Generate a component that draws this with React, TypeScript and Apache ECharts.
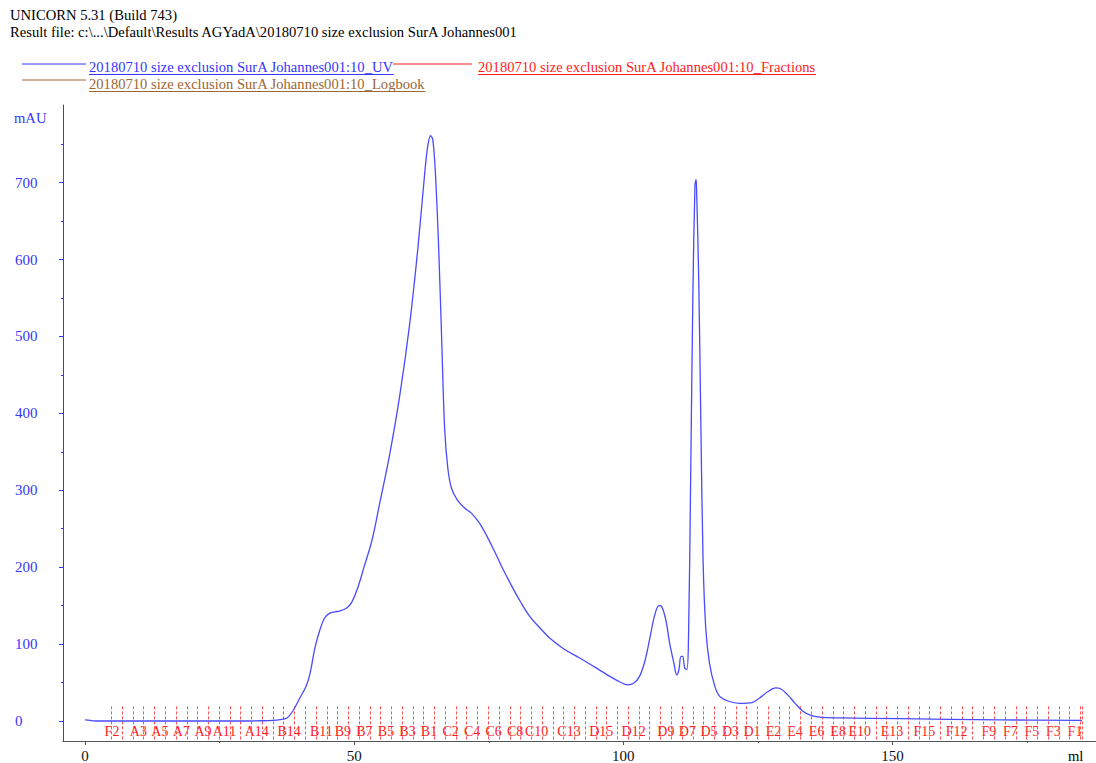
import React, { useEffect, useRef } from "react";
import * as echarts from "echarts";

// ---------- data ----------
const titleLine1 = "UNICORN 5.31 (Build 743)";
const titleLine2 = "Result file: c:\\...\\Default\\Results AGYadA\\20180710 size exclusion SurA Johannes001";
const legendUV = "20180710 size exclusion SurA Johannes001:10_UV";
const legendFractions = "20180710 size exclusion SurA Johannes001:10_Fractions";
const legendLogbook = "20180710 size exclusion SurA Johannes001:10_Logbook";

// UV trace: volume (ml) and absorbance (mAU)
const uvMl = [
  0, 0.5, 1.5, 3, 6, 10, 15, 20, 25, 30, 33, 34.9, 36.2, 37.5, 38.6, 39.9, 41.1, 41.8, 42.7, 43.6, 44.5,
  45.4, 46.4, 47.3, 48.6, 49.5, 50.6, 51.9, 53.3, 54.7, 56.6, 58.5, 60.3, 61.8, 62.9, 63.6, 64.2,
  64.6, 65.1, 65.7, 66.3, 66.8, 67.4, 68.1, 69.2, 70.5, 71.8, 73.3, 74.6, 76.1, 77.6, 79.3, 80.8,
  82.6, 84.5, 86.3, 89.1, 91.9, 94.7, 97.5, 99.3, 100.8, 101.9, 103, 104, 104.9, 105.8, 106.6,
  107.1, 107.9, 108.6, 109.4, 109.9, 110.3, 110.7, 111.0, 111.4, 111.8, 112.1, 112.5, 112.9, 113.3,
  113.5, 113.6, 114.0, 114.4, 114.8, 115.3, 116.0, 117.0, 117.9, 119.4, 121.6, 123.9, 125.3, 126.8,
  128.3, 129.2, 130.4, 131.9, 133.3, 134.6, 136.5, 140.2, 151.4, 170, 185.2,
];
const uvMau = [
  1.5, 1.2, 0.3, 0, 0, 0, 0, 0, 0, 0, 0.3, 0.8, 1.8, 4, 13, 30, 46, 62, 95, 118, 134,
  140, 142, 143, 147, 154, 172, 202, 235, 282, 347, 425, 516, 613, 697, 745, 761,
  756, 710, 613, 484, 380, 328, 302, 287, 277, 270, 257, 241, 220, 198, 175, 156,
  136, 121, 108, 93, 82, 70, 58, 51, 47, 49, 58, 78, 107, 137, 150,
  149, 131, 101, 75, 60, 66, 84, 84, 69, 67, 108, 315, 548, 697,
  704, 691, 574, 384, 211, 121, 75, 45, 32, 26, 23, 24, 30, 38,
  43, 42, 35, 23, 13, 8, 5, 4, 3, 1.5, 0.7,
];

// fraction boundaries (ml)
const fractionBounds = [
  4.9, 6.9, 8.9, 10.9, 12.9, 14.9, 16.9, 18.9, 20.9, 22.9, 24.9, 26.9, 28.9, 30.9, 32.9, 34.9,
  36.9, 38.9, 40.9, 42.9, 44.9, 46.9, 48.9, 50.9, 52.9, 54.9, 56.9, 58.9, 60.9, 62.9, 64.9, 66.9,
  68.9, 70.9, 72.9, 74.9, 76.9, 78.9, 80.9, 82.9, 84.9, 86.9, 88.9, 90.9, 92.9, 94.9, 96.9, 98.9,
  100.9, 102.9, 104.9, 106.9, 108.9, 110.9, 112.9, 114.9, 116.9, 118.9, 120.9, 122.9, 124.9, 126.9,
  128.9, 130.9, 132.9, 134.9, 136.9, 138.9, 140.9, 142.9, 144.9, 146.9, 148.9, 150.9, 152.9, 154.9,
  156.9, 158.9, 160.9, 162.9, 164.9, 166.9, 168.9, 170.9, 172.9, 174.9, 176.9, 178.9, 180.9, 182.9,
  184.9, 185.3,
];
const fractionLabels = [
  "F2", "A3", "A5", "A7", "A9", "A11", "A14", "B14", "B11", "B9", "B7", "B5", "B3", "B1",
  "C2", "C4", "C6", "C8", "C10", "C13", "D15", "D12", "D9", "D7", "D5", "D3", "D1",
  "E2", "E4", "E6", "E8", "E10", "E13", "F15", "F12", "F9", "F7", "F5", "F3", "F1",
];
const fractionLabelMl = [
  5.0, 9.9, 13.9, 17.9, 21.9, 25.9, 31.9, 37.9, 43.9, 47.9, 51.9, 55.9, 59.9, 63.9,
  67.9, 71.9, 75.9, 79.9, 83.9, 89.9, 95.9, 101.9, 107.9, 111.9, 115.9, 119.9, 123.9,
  127.9, 131.9, 135.9, 139.9, 143.9, 149.9, 155.9, 161.9, 167.9, 171.9, 175.9, 179.9, 183.9,
];

const yMajorTicks = [0, 100, 200, 300, 400, 500, 600, 700];
const yMinorTicks = [50, 150, 250, 350, 450, 550, 650, 750];
const xMajorTicks = [0, 50, 100, 150];
const xMinorTicks = [25, 75, 125, 175];

// ---------- style ----------
const FONT = "'Liberation Serif', 'Times New Roman', serif";
const BLUE = "#3535ff";
const RED = "#ff1a1a";
const BROWN = "#9a6634";
const X_MIN = -4.1;
const X_MAX = 187.8;
const Y_MIN = -26;
const Y_MAX = 801;
const FRACTION_TOP = 19;
const FRACTION_LABEL_Y = -13;
const TXT = 14.6;

function measure(text: string, size: number) {
  const c = document.createElement("canvas");
  const ctx = c.getContext("2d");
  if (!ctx) return text.length * 6.5;
  ctx.font = `${size}px ${FONT}`;
  return ctx.measureText(text).width;
}

export default function App() {
  const ref = useRef<HTMLDivElement>(null);

  useEffect(() => {
    document.body.style.margin = "0";
    if (!ref.current) return;
    const chart = echarts.init(ref.current, undefined, { renderer: "svg" });

    const wUV = measure(legendUV, TXT);
    const wFr = measure(legendFractions, TXT);
    const wLog = measure(legendLogbook, TXT);

    const txt = (x: number, y: number, text: string, fill: string, size = TXT) => ({
      type: "text",
      x,
      y,
      silent: true,
      style: { text, fill, font: `${size}px ${FONT}`, textVerticalAlign: "middle", textAlign: "left" },
    });
    const ln = (x1: number, y1: number, x2: number, y2: number, stroke: string) => ({
      type: "line",
      silent: true,
      shape: { x1, y1, x2, y2 },
      style: { stroke, lineWidth: 1 },
    });

    chart.setOption({
      animation: false,
      backgroundColor: "#ffffff",
      grid: { left: 63, right: 0, top: 105, bottom: 20, containLabel: false },
      graphic: [
        txt(10, 15, titleLine1, "#000000"),
        txt(10, 32, titleLine2, "#000000"),
        ln(22, 64, 86, 64, BLUE),
        txt(89, 67, legendUV, BLUE),
        ln(89, 74.5, 89 + wUV, 74.5, BLUE),
        ln(393, 64, 472, 64, RED),
        txt(478, 67, legendFractions, RED),
        ln(478, 74.5, 478 + wFr, 74.5, RED),
        ln(22, 80, 86, 80, BROWN),
        txt(89, 84, legendLogbook, BROWN),
        ln(89, 91.5, 89 + wLog, 91.5, BROWN),
        txt(14, 118, "mAU", BLUE),
        txt(1068, 756, "ml", "#000000"),
      ],
      xAxis: [
        {
          type: "value",
          min: X_MIN,
          max: X_MAX,
          position: "bottom",
          axisLine: { show: true, onZero: false, lineStyle: { color: "#555555", width: 1 } },
          axisTick: { show: true, customValues: xMajorTicks, length: 4, lineStyle: { color: "#555555" } },
          axisLabel: { customValues: xMajorTicks, color: "#111111", fontSize: 15, fontFamily: FONT, margin: 7 },
          splitLine: { show: false },
        },
        {
          type: "value",
          min: X_MIN,
          max: X_MAX,
          position: "bottom",
          axisLine: { show: false, onZero: false },
          axisTick: { show: true, customValues: xMinorTicks, length: 2, lineStyle: { color: "#555555" } },
          axisLabel: { show: false },
          splitLine: { show: false },
        },
      ],
      yAxis: [
        {
          type: "value",
          min: Y_MIN,
          max: Y_MAX,
          position: "left",
          axisLine: { show: true, onZero: false, lineStyle: { color: BLUE, width: 1 } },
          axisTick: { show: true, customValues: yMajorTicks, length: 4, lineStyle: { color: BLUE } },
          axisLabel: {
            customValues: yMajorTicks,
            color: BLUE,
            fontSize: 15,
            fontFamily: FONT,
            align: "left",
            margin: 48,
          },
          splitLine: { show: false },
        },
        {
          type: "value",
          min: Y_MIN,
          max: Y_MAX,
          position: "left",
          axisLine: { show: false, onZero: false },
          axisTick: { show: true, customValues: yMinorTicks, length: 2, lineStyle: { color: BLUE } },
          axisLabel: { show: false },
          splitLine: { show: false },
        },
      ],
      series: [
        {
          name: "FractionLines",
          type: "line",
          z: 1,
          data: [],
          silent: true,
          markLine: {
            silent: true,
            symbol: ["none", "none"],
            label: { show: false },
            lineStyle: { color: "#ff5050", type: [3, 2], width: 1, opacity: 1 },
            data: fractionBounds.map((x) => [
              { coord: [x, FRACTION_TOP] },
              { coord: [x, Y_MIN] },
            ]),
          },
        },
        {
          name: "Fractions",
          type: "scatter",
          z: 4,
          symbol: "circle",
          symbolSize: 1,
          itemStyle: { color: "rgba(0,0,0,0)" },
          silent: true,
          data: fractionLabelMl.map((x, i) => ({ value: [x, FRACTION_LABEL_Y], name: fractionLabels[i] })),
          label: {
            show: true,
            position: "inside",
            formatter: "{b}",
            color: RED,
            opacity: 1,
            fontSize: 14,
            fontFamily: FONT,
          },
          labelLayout: { hideOverlap: false },
        },
        {
          name: "UV",
          type: "line",
          z: 5,
          showSymbol: false,
          symbol: "none",
          smooth: 0.35,
          lineStyle: { color: "#4a4aff", width: 1.3 },
          data: uvMl.map((x, i) => [x, uvMau[i]]),
        },
      ],
    });

    return () => chart.dispose();
  }, []);

  return <div ref={ref} style={{ width: 1096, height: 763 }} />;
}
